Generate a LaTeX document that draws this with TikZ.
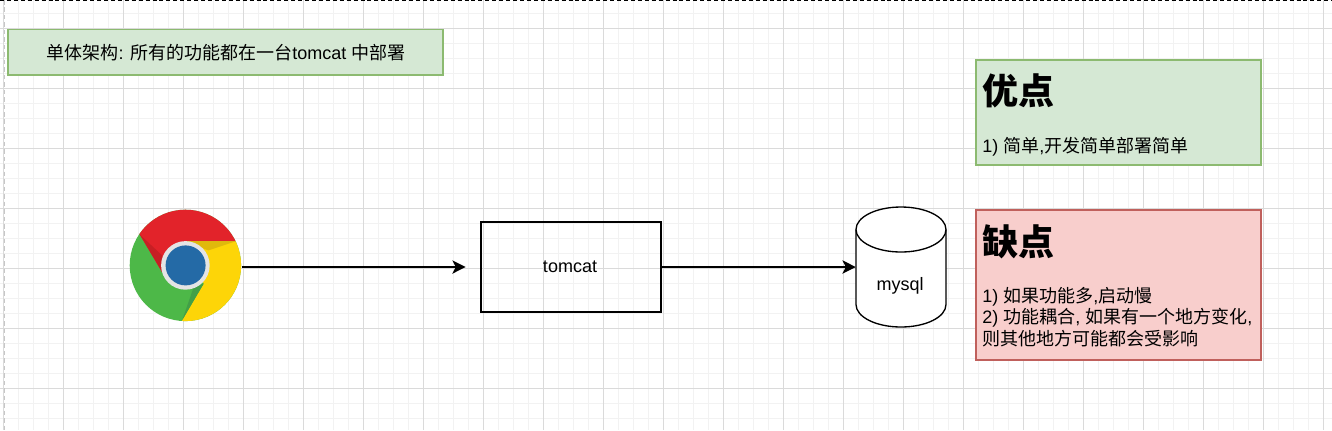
\documentclass[tikz,border=0pt]{standalone}
\usepackage{fontspec}
\setmainfont{Liberation Sans}
\newfontfamily\cjk{Noto Sans CJK SC}
\usetikzlibrary{arrows.meta}
\definecolor{minorgrid}{HTML}{F2F2F2}
\definecolor{majorgrid}{HTML}{DADADA}
\definecolor{goodfill}{HTML}{D5E8D4}
\definecolor{goodline}{HTML}{8CBA70}
\definecolor{badfill}{HTML}{F8CECC}
\definecolor{badline}{HTML}{C0605C}
\definecolor{chred}{HTML}{E2232A}
\definecolor{chdred}{HTML}{C71F24}
\definecolor{chgreen}{HTML}{4DB848}
\definecolor{chdgreen}{HTML}{42A047}
\definecolor{chyellow}{HTML}{FDD508}
\definecolor{chdyellow}{HTML}{E0B90C}
\definecolor{chblue}{HTML}{246AA6}
\definecolor{chring}{HTML}{E4E4E4}
\newcommand{\bodyfont}{\fontsize{13.5pt}{16pt}\selectfont}
\tikzset{
  gridminor/.style={minorgrid,line width=0.75pt},
  gridmajor/.style={majorgrid,line width=0.75pt},
  notegood/.style={draw=goodline,fill=goodfill,line width=1pt,minimum width=213.75pt,inner sep=0pt},
  notebad/.style={draw=badline,fill=badfill,line width=1pt,minimum width=213.75pt,inner sep=0pt},
  plaintext/.style={inner sep=0pt,font=\bodyfont,text=black},
  headtext/.style={inner sep=0pt,anchor=west,font=\fontsize{27pt}{32pt}\selectfont\bfseries\cjk},
  flow/.style={line width=1pt,-{Stealth[length=10pt,width=10pt,inset=2.6pt]}},
  box/.style={draw,line width=1pt,minimum width=135pt,minimum height=67.5pt,font=\bodyfont},
}
\begin{document}
\begin{tikzpicture}[x=0.75pt,y=-0.75pt]
\useasboundingbox (0,0) rectangle (1332,430);
\fill[white] (0,0) rectangle (1332,430);
% grid
\foreach \g in {3,18,...,1323} \draw[gridminor] (\g,0) -- (\g,430);
\foreach \g in {13,28,...,430} \draw[gridminor] (0,\g) -- (1332,\g);
\foreach \g in {3,63,...,1323} \draw[gridmajor] (\g,0) -- (\g,430);
\foreach \g in {28,88,...,430} \draw[gridmajor] (0,\g) -- (1332,\g);
% page-break lines
\draw[black,line width=0.8pt,dash pattern=on 3pt off 2.2pt] (0,0.8) -- (1332,0.8);
\draw[black!22,line width=1.4pt,dash pattern=on 3.4pt off 2.2pt] (4.5,0) -- (4.5,430);
% title
\node[draw=goodline,fill=goodfill,line width=1pt,minimum width=326.25pt,minimum height=34.2pt,inner sep=0pt] (title) at (225.5,52.3) {};
\node[plaintext] (titletext) at (226,52.5)
  {{\cjk 单体架构}: {\cjk 所有的功能都在一台}tomcat {\cjk 中部署}};
% notes
\node[notegood,minimum height=78.75pt] (pros) at (1118.5,112.5) {};
\node[headtext] (prosh) at (982,91) {优点};
\node[plaintext,anchor=west] (prost) at (982,147) {1) {\cjk 简单},{\cjk 开发简单部署简单}};
\node[notebad,minimum height=112.5pt] (cons) at (1118.5,285) {};
\node[headtext] (consh) at (982,241.5) {缺点};
\node[plaintext,anchor=north west,align=left] (const) at (982,287)
  {1) {\cjk 如果功能多},{\cjk 启动慢}\\[0.1pt]
   2) {\cjk 功能耦合}, {\cjk 如果有一个地方变化},\\[0.1pt]
   {\cjk 则其他地方可能都会受影响}};
% chrome icon
\begin{scope}[shift={(0.4,0.4)}]
  \clip (185,265) circle[radius=55.7];
  \fill[chgreen] (120,200) rectangle (250,330);
  \fill[chred] (139.3,234) -- (161.7,271.7) -- (185,241) -- (235,241) -- (250,241) -- (250,200) -- (120,200) -- (120,201) -- cycle;
  \fill[chdred] (139.3,234) -- (161.7,271.7) -- (161.7,255) -- cycle;
  \fill[chyellow] (235,241) -- (185,241) -- (203.3,283.3) -- (181.7,320) -- (181.7,330) -- (250,330) -- (250,241) -- cycle;
  \fill[chdyellow] (235,241) -- (185,241) -- (208,250) -- cycle;
  \fill[chdgreen] (181.7,320) -- (203.3,283.3) -- (193.3,286.7) -- cycle;
\end{scope}
\fill[chring] (185.4,265.4) circle[radius=24.3];
\fill[chblue] (185.6,265.4) circle[radius=20];
\node[minimum size=84pt,inner sep=0pt,circle] (chrome) at (185,267) {};
% tomcat
\node[box] (tomcat) at (571,267) {\hspace*{-1.5pt}tomcat};
% mysql
\node[minimum width=67.5pt,minimum height=90pt,inner sep=0pt] (mysql) at (901,267) {};
\draw[line width=1pt,fill=white]
  (856,229.5) .. controls (856,217) and (876,207) .. (901,207)
  .. controls (926,207) and (946,217) .. (946,229.5)
  -- (946,304.5) .. controls (946,317) and (926,327) .. (901,327)
  .. controls (876,327) and (856,317) .. (856,304.5) -- cycle;
\draw[line width=1pt] (856,229.5) .. controls (856,242) and (876,252) .. (901,252)
  .. controls (926,252) and (946,242) .. (946,229.5);
\node[plaintext] (mysqltext) at (900,286) {mysql};
% connectors
\draw[flow] ([xshift=0.75pt]chrome.east) -- ([xshift=-11pt]tomcat.west);
\draw[flow] (tomcat.east) -- (mysql.west);
\end{tikzpicture}
\end{document}
